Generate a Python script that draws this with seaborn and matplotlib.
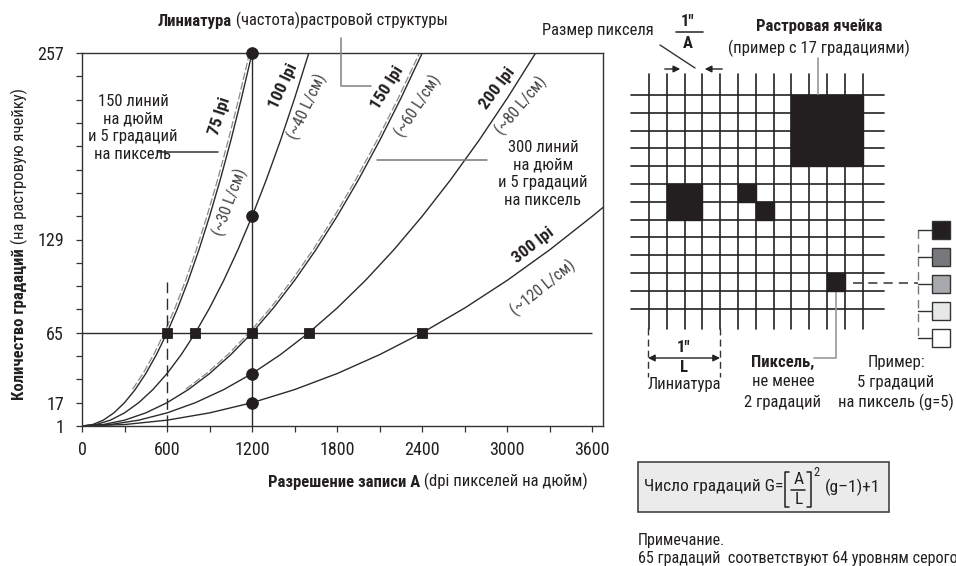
import pandas as pd
import seaborn as sns
import matplotlib.pyplot as plt
from matplotlib import transforms, font_manager
from matplotlib.patches import Rectangle

# значения: G = число градаций в растровой ячейке
gradations = [1, 2, 5, 10, 17, 26, 37, 50, 65, 82, 101, 122, 145, 170, 197, 226, 257]
dpi_75 = [0, 75, 150, 225, 300, 375, 450, 525, 600, 675, 750, 825, 900, 975, 1050, 1125, 1200]
dpi_100 = [0, 100, 200, 300, 400, 500, 600, 700, 800, 900, 1000, 1100, 1200, 1300, 1400, 1500, 1600]
dpi_150 = [0, 150, 300, 450, 600, 750, 900, 1050, 1200, 1350, 1500, 1650, 1800, 1950, 2100, 2250, 2400]
dpi_200 = [0, 200, 400, 600, 800, 1000, 1200, 1400, 1600, 1800, 2000, 2200, 2400, 2600, 2800, 3000, 3200]
dpi_300 = [0, 300, 600, 900, 1200, 1500, 1800, 2100, 2400, 2700, 3000, 3300, 3600, 3675]
g_300 = [1, 2, 5, 10, 17, 26, 37, 50, 65, 82, 101, 122, 145, 151]

circle_dpi = [1200, 1200, 1200, 1200]
circle_g = [257, 145, 37, 17]
square_dpi = [600, 800, 1200, 1600, 2400]
square_g = [65, 65, 65, 65, 65]

x_ticks = [0, 600, 1200, 1800, 2400, 3000, 3600]
y_ticks = [1, 17, 65, 129, 257]

# растровая ячейка (столбец, строка, ширина, высота в пикселях записи)
black_cells = [(8, 0, 4, 4), (1, 5, 2, 2), (5, 5, 1, 1), (6, 6, 1, 1), (10, 10, 1, 1)]
gray_levels = ['#231f20', '#77787b', '#a7a9ac', '#e6e7e8', '#ffffff']

curves = {'75': (dpi_75, gradations), '100': (dpi_100, gradations), '150': (dpi_150, gradations),
          '200': (dpi_200, gradations), '300': (dpi_300, g_300)}
rows = []
for name, (xs, gs) in curves.items():
    for x, g in zip(xs, gs):
        rows.append({'curve': name, 'dpi': x, 'G': g})
curve_df = pd.DataFrame(rows)

# 150 и 300 линий при 5 градациях на пиксель совпадают с 75 и 150 lpi
dash_rows = []
for name, xs in [('150x5', dpi_75), ('300x5', dpi_150)]:
    for x, g in list(zip(xs, gradations))[5:]:
        dash_rows.append({'curve': name, 'dpi': x, 'G': g})
dash_df = pd.DataFrame(dash_rows)

# узкий шрифт, похожий на Helvetica Condensed
available = {f.name for f in font_manager.fontManager.ttflist}
narrow = next((n for n in ['Roboto Condensed', 'IBM Plex Sans Condensed', 'Liberation Sans Narrow',
                           'Liberation Sans'] if n in available), 'DejaVu Sans')

sns.set_style('ticks')
plt.rcParams['font.family'] = [narrow, 'DejaVu Sans']
ink = '#231f20'

fig = plt.figure(figsize=(9.56, 5.66), dpi=100)
ax = fig.add_axes([82 / 956, 1 - 426 / 566, 521 / 956, 373 / 566])

sns.lineplot(data=curve_df, x='dpi', y='G', units='curve', estimator=None, sort=False,
             color='#2b2b2b', lw=1.0, ax=ax)
n_before = len(ax.lines)
sns.lineplot(data=dash_df, x='dpi', y='G', units='curve', estimator=None, sort=False,
             color='#8a8a8a', lw=0.9, linestyle=(0, (6, 2)), ax=ax)
shift = transforms.ScaledTranslation(-2.5 / 100, 0.5 / 100, fig.dpi_scale_trans)
for ln in ax.lines[n_before:]:
    ln.set_transform(ax.transData + shift)

ax.hlines(65, 0, 3600, color='#2b2b2b', lw=1.0)
ax.vlines(1200, 1, 257, color='#2b2b2b', lw=1.0)
ax.vlines(600, 1, 100, color='#2b2b2b', lw=1.0, linestyles=(0, (8, 4)))

sns.scatterplot(x=circle_dpi, y=circle_g, s=70, marker='o', color=ink, edgecolor=ink,
                ax=ax, zorder=5, clip_on=False)
sns.scatterplot(x=square_dpi, y=square_g, s=55, marker='s', color=ink, edgecolor=ink,
                ax=ax, zorder=5, clip_on=False)

ax.set_xlim(0, 3675)
ax.set_ylim(1, 257)
ax.set_xticks(x_ticks)
ax.set_xticks(range(0, 3601, 300), minor=True)
ax.set_yticks(y_ticks)
ax.set_yticks(range(1, 258, 16), minor=True)
ax.tick_params(which='both', direction='out', length=4, width=0.9, color='#333333',
               labelsize=13, labelcolor=ink)
ax.tick_params(axis='x', pad=7)
ax.tick_params(axis='y', pad=9)
ax.set_xlabel('')
ax.set_ylabel('')
for sp in ax.spines.values():
    sp.set_color('#333333')
    sp.set_linewidth(1.0)

# подписи кривых
lbl = dict(ha='center', va='center', rotation_mode='anchor', color=ink)
sub = dict(ha='center', va='center', rotation_mode='anchor', color='#444444', fontsize=11.5)
ax.text(974, 214, '75 lpi', rotation=72, fontweight='bold', fontsize=12.5, **lbl)
ax.text(1045, 155, '(~30 L/см)', rotation=70, **sub)
ax.text(1419, 234, '100 lpi', rotation=65, fontweight='bold', fontsize=12.5, **lbl)
ax.text(1588, 220, '(~40 L/см)', rotation=65, **sub)
ax.text(2153, 233, '150 lpi', rotation=58, fontweight='bold', fontsize=12.5, **lbl)
ax.text(2372, 221, '(~60 L/см)', rotation=57, **sub)
ax.text(2929, 233, '200 lpi', rotation=53, fontweight='bold', fontsize=12.5, **lbl)
ax.text(3099, 221, '(~80 L/см)', rotation=50, **sub)
ax.text(3184, 125, '300 lpi', rotation=38, fontweight='bold', fontsize=12.5, **lbl)
ax.text(3254, 96, '(~120 L/см)', rotation=39, **sub)

# накладка в пикселях для поясняющей схемы
ov = fig.add_axes([0, 0, 1, 1])
ov.set_xlim(0, 956)
ov.set_ylim(566, 0)
ov.axis('off')
fs = 12

t = ov.text(158, 26, 'Линиатура', fontweight='bold', fontsize=fs, color=ink, ha='left', va='baseline')
ov.annotate(' (частота)растровой структуры', xy=(1, 0), xycoords=t, ha='left', va='bottom',
            fontsize=fs, color=ink)
ov.plot([341, 341, 371], [38, 86, 86], color='#8a8a8a', lw=1.2)

t = ov.text(268, 487, 'Разрешение записи А', fontweight='bold', fontsize=fs, color=ink,
            ha='left', va='baseline')
ov.annotate(' (dpi пикселей на дюйм)', xy=(1, 0), xycoords=t, ha='left', va='bottom',
            fontsize=fs, color=ink)

t = ov.text(19, 400, 'Количество градаций', fontweight='bold', fontsize=fs, color=ink,
            rotation=90, ha='center', va='bottom')
ov.annotate(' (на растровую ячейку)', xy=(0.5, 1), xycoords=t, rotation=90, ha='center',
            va='bottom', fontsize=fs, color=ink)

ov.text(133, 128, '150 линий\nна дюйм\nи 5 градаций\nна пиксель', ha='center', va='center',
        fontsize=fs, color=ink, linespacing=1.24)
ov.plot([158, 218], [152, 152], color='#333333', lw=1.1)
ov.text(543, 174, '300 линий\nна дюйм\nи 5 градаций\nна пиксель', ha='center', va='center',
        fontsize=fs, color=ink, linespacing=1.24)
ov.plot([377, 487], [160, 160], color='#777777', lw=1.1)

# растровая сетка
gx, gy, cell, n = 649, 95, 17.8, 12
for i in range(n + 1):
    ov.plot([gx + i * cell] * 2, [gy - 1.2 * cell, gy + 13.15 * cell], color='#222222', lw=1.2)
    ov.plot([gx - 1.0 * cell, gx + 13.2 * cell], [gy + i * cell] * 2, color='#222222', lw=1.2)
for c, r, w, h in black_cells:
    ov.add_patch(Rectangle((gx + c * cell, gy + r * cell), w * cell, h * cell,
                           fc=ink, ec=ink, zorder=3))

ov.text(598, 30, 'Размер пикселя', ha='center', va='center', fontsize=fs, color=ink)
ov.plot([660, 695], [45, 68], color='#333333', lw=1.0)
ov.text(688, 22, '1"', ha='center', va='center', fontsize=fs, fontweight='bold', color=ink)
ov.plot([676, 703], [32, 32], color='#333333', lw=1.2)
ov.text(688, 44, 'A', ha='center', va='center', fontsize=fs, fontweight='bold', color=ink)
ov.annotate('', xy=(683, 69), xytext=(662, 69),
            arrowprops=dict(arrowstyle='-|>', color='#222222', lw=1.0, mutation_scale=10))
ov.annotate('', xy=(702, 69), xytext=(725, 69),
            arrowprops=dict(arrowstyle='-|>', color='#222222', lw=1.0, mutation_scale=10))

ov.text(819, 26, 'Растровая ячейка', ha='center', va='center', fontsize=fs, fontweight='bold', color=ink)
ov.text(819, 48, '(пример с 17 градациями)', ha='center', va='center', fontsize=fs, color=ink)
ov.plot([818, 818], [58, 95], color='#999999', lw=1.2)

# линиатура 1"/L
ov.plot([648, 648], [328, 377], color='#333333', lw=1.0, ls=(0, (5, 3)))
ov.plot([720, 720], [328, 377], color='#333333', lw=1.0, ls=(0, (5, 3)))
ov.annotate('', xy=(720, 358), xytext=(648, 358),
            arrowprops=dict(arrowstyle='<|-|>', color='#222222', lw=1.0, mutation_scale=10,
                            shrinkA=0, shrinkB=0))
ov.text(684, 348, '1"', ha='center', va='center', fontsize=fs, fontweight='bold', color=ink,
        bbox=dict(fc='white', ec='none', pad=0.5))
ov.text(684, 367, 'L', ha='center', va='center', fontsize=fs, fontweight='bold', color=ink)
ov.text(684, 384, 'Линиатура', ha='center', va='center', fontsize=fs, color=ink)

# пиксель и его градации
ov.plot([836, 836, 814], [292, 358, 358], color='#999999', lw=1.2)
ov.text(783, 362, 'Пиксель,', ha='center', va='center', fontsize=fs, fontweight='bold', color=ink)
ov.text(783, 382, 'не менее', ha='center', va='center', fontsize=fs, color=ink)
ov.text(783, 402, '2 градаций', ha='center', va='center', fontsize=fs, color=ink)
ov.text(896, 362, 'Пример:', ha='center', va='center', fontsize=fs, color=ink)
ov.text(896, 382, '5 градаций', ha='center', va='center', fontsize=fs, color=ink)
ov.text(896, 402, 'на пиксель (g=5)', ha='center', va='center', fontsize=fs, color=ink)

ov.plot([853, 918], [283, 283], color='#333333', lw=1.1, ls=(0, (6, 4)))
ov.plot([918, 918], [230, 338], color='#777777', lw=1.0, ls=(0, (6, 4)))
for k, shade in enumerate(gray_levels):
    yc = 230 + k * 27
    ov.plot([918, 932], [yc, yc], color='#333333', lw=1.0)
    ov.add_patch(Rectangle((932, yc - 9), 18, 18, fc=shade, ec='#333333', lw=1.0, zorder=3))

# формула G = [A/L]^2 (g-1) + 1
ov.add_patch(Rectangle((638, 462), 251, 50, fc='#ebebeb', ec='#444444', lw=1.2))
ff = 12.5
t = ov.text(644, 487, 'Число градаций G=', ha='left', va='center', fontsize=ff, color=ink)
bb = t.get_window_extent(renderer=fig.canvas.get_renderer())
xe = bb.x1
ov.plot([xe + 6, xe + 2, xe + 2, xe + 6], [472, 472, 507, 507], color=ink, lw=1.1)
ov.text(xe + 15, 480, 'A', ha='center', va='center', fontsize=ff, color=ink)
ov.plot([xe + 8, xe + 22], [490, 490], color=ink, lw=1.1)
ov.text(xe + 15, 500, 'L', ha='center', va='center', fontsize=ff, color=ink)
ov.plot([xe + 24, xe + 28, xe + 28, xe + 24], [472, 472, 507, 507], color=ink, lw=1.1)
ov.text(xe + 33, 473, '2', ha='center', va='center', fontsize=9, color=ink)
ov.text(xe + 42, 487, '(g–1)+1', ha='left', va='center', fontsize=ff, color=ink)

ov.text(638, 541, 'Примечание.', ha='left', va='center', fontsize=11.6, color=ink)
ov.text(638, 559, '65 градаций  соответствуют 64 уровням серого', ha='left', va='center',
        fontsize=11.6, color=ink)

fig.savefig('out.png', dpi=100)
